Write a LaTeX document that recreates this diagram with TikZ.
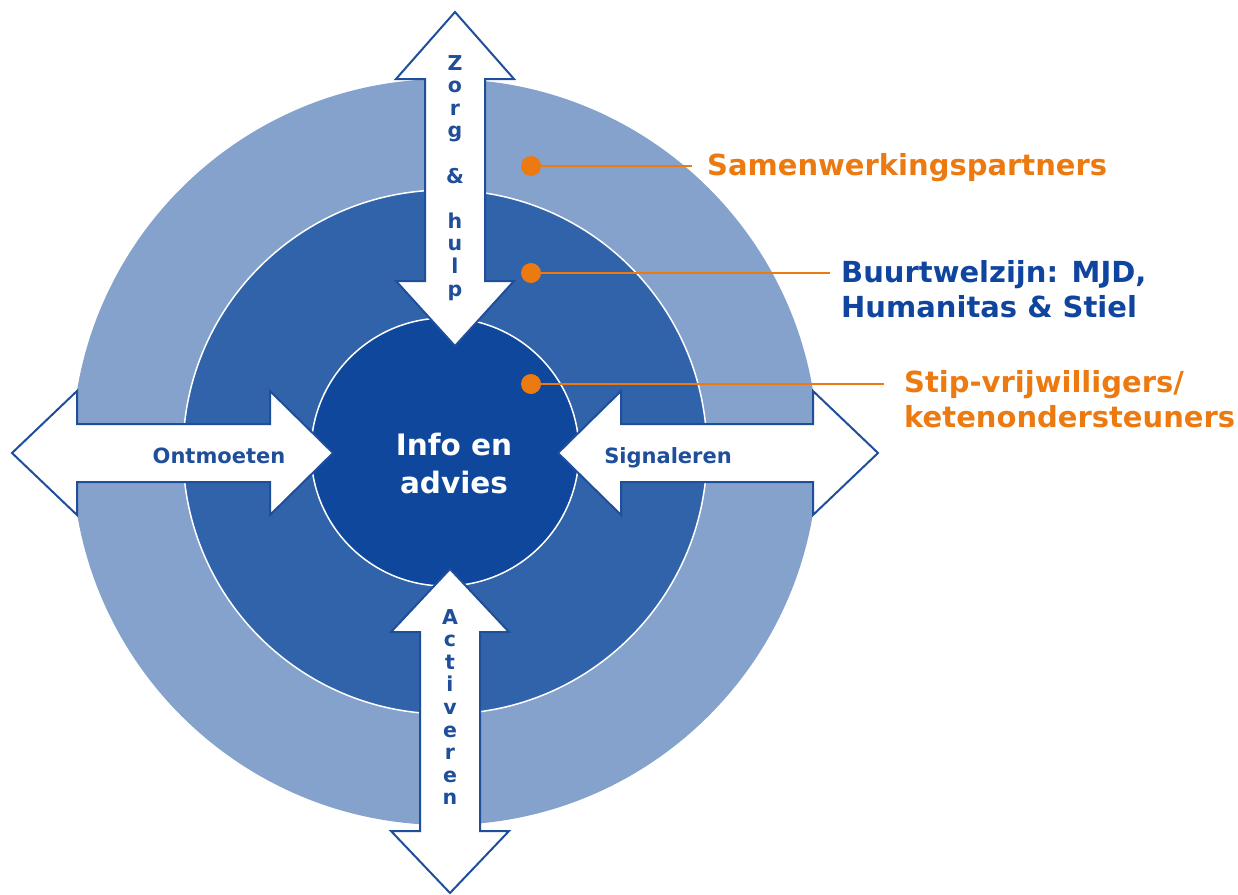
\documentclass[tikz,border=0pt]{standalone}
\usepackage{fontspec}
\setmainfont{DejaVu Sans}
\usepackage{tikz}
\usetikzlibrary{calc}
\definecolor{ringbuiten}{HTML}{84A2CC}
\definecolor{ringmidden}{HTML}{3063A9}
\definecolor{ringbinnen}{HTML}{0E479C}
\definecolor{pijlblauw}{HTML}{1F4E9A}
\definecolor{tekstblauw}{HTML}{0F459E}
\definecolor{oranje}{HTML}{EC7A10}
\tikzstyle{every node}=[font=\bfseries,inner sep=0pt]

\begin{document}
\begin{tikzpicture}[line join=miter,x=1pt,y=-1pt,
    pijl/.style={draw=pijlblauw,fill=white,line width=2pt},
    pijltekst/.style={text=pijlblauw,font=\fontsize{21}{25}\bfseries\selectfont},
    staand/.style={text=pijlblauw,align=center,font=\fontsize{20.5}{22.6}\bfseries\selectfont},
    bijschrift/.style={font=\fontsize{29}{35}\bfseries\selectfont},
    punt/.style={circle,fill=oranje,minimum size=20pt},
    lijn/.style={draw=oranje,line width=2pt}]
    \useasboundingbox (0,0) rectangle (1238,894);
    % ringen
    \fill[ringbuiten] (445,452) circle (373pt);
    \draw[white,line width=1.5pt,fill=ringmidden] (445,452) circle (262pt);
    \draw[white,line width=1.5pt,fill=ringbinnen] (445,452) circle (134pt);
    % pijlen
    \draw[pijl] (455,12) -- (514,79) -- (485,79) -- (485,281) -- (514,281) -- (455,346) -- (396,281) -- (425,281) -- (425,79) -- (396,79) -- cycle;
    \draw[pijl] (450,569) -- (509,632) -- (480,632) -- (480,831) -- (509,831) -- (450,893) -- (391,831) -- (420,831) -- (420,632) -- (391,632) -- cycle;
    \draw[pijl] (12,453) -- (77,391) -- (77,424) -- (270,424) -- (270,391) -- (333,453) -- (270,515) -- (270,482) -- (77,482) -- (77,515) -- cycle;
    \draw[pijl] (558,453) -- (621,391) -- (621,424) -- (813,424) -- (813,391) -- (878,453) -- (813,515) -- (813,482) -- (621,482) -- (621,515) -- cycle;
    \node[pijltekst,anchor=base] (ontmoeten) at (219,463) {Ontmoeten};
    \node[pijltekst,anchor=base] (signaleren) at (668,463) {Signaleren};
    \node[staand,anchor=north] (zorg) at (455,55) {Z\\o\\r\\g\\~\\\&\\~\\h\\u\\l\\p};
    \node[staand,anchor=north] (activeren) at (450,609) {A\\c\\t\\i\\v\\e\\r\\e\\n};
    \node[text=white,align=center,font=\fontsize{29.5}{38}\bfseries\selectfont,anchor=north] (info) at (454,433) {Info en\\advies};
    % toelichting
    \node[bijschrift,text=oranje,anchor=base west] (samen) at (707,175.5) {Samenwerkingspartners};
    \node[bijschrift,text=tekstblauw,anchor=north west,align=left] (buurt) at (841,260.5) {Buurtwelzijn: MJD,\\Humanitas \& Stiel};
    \node[bijschrift,text=oranje,anchor=north west,align=left] (stip) at (904,370.5) {Stip-vrijwilligers/\\ketenondersteuners};
    \node[punt] (p1) at (531,166) {};
    \node[punt] (p2) at (531,273) {};
    \node[punt] (p3) at (531,384) {};
    \coordinate (e1) at (692,166);
    \coordinate (e2) at (830,273);
    \coordinate (e3) at (884,384);
    \draw[lijn] (p1) -- (e1);
    \draw[lijn] (p2) -- (e2);
    \draw[lijn] (p3) -- (e3);
\end{tikzpicture}
\end{document}
